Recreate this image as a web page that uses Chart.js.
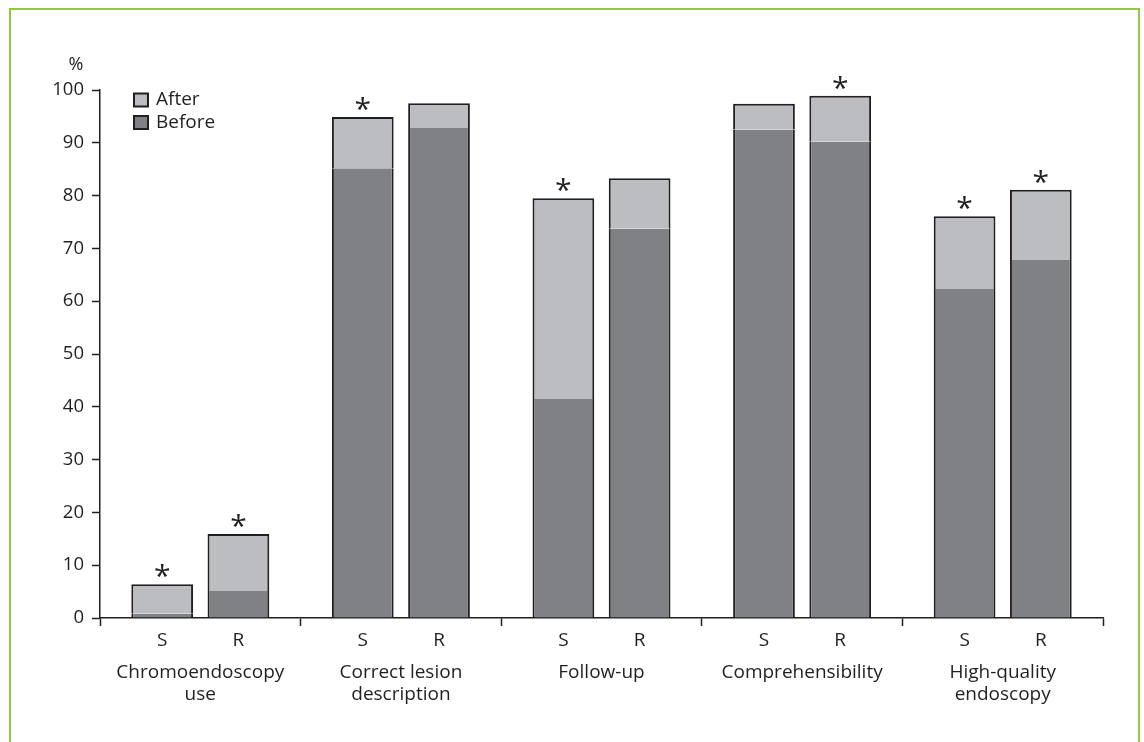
<!DOCTYPE html>
<html>
<head>
<meta charset="utf-8">
<script src="https://cdn.jsdelivr.net/npm/chart.js@4"></script>
<style>
  html, body { margin: 0; padding: 0; background: #fff; }
  .frame {
    position: absolute; left: 9px; top: 8px; width: 1131px; height: 760px;
    border: 2px solid #92c83e; box-sizing: border-box;
  }
  .wrap { position: absolute; left: 0; top: 0; width: 1144px; height: 742px; }
</style>
</head>
<body>
<div class="frame"></div>
<div class="wrap"><canvas id="myChart" width="1144" height="742"></canvas></div>
<script>
const categories = [
  ["Chromoendoscopy", "use"],
  ["Correct lesion", "description"],
  ["Follow-up"],
  ["Comprehensibility"],
  ["High-quality", "endoscopy"],
];
const groups = ["S", "R"];

// before / after (%), S and R per category
const beforeS = [0.8, 85.2, 41.5, 92.5, 62.3];
const afterS = [6.4, 94.9, 79.5, 97.4, 76.1];
const beforeR = [5.1, 92.8, 73.7, 90.2, 67.8];
const afterR = [15.9, 97.5, 83.3, 98.9, 81.1];

// significant change marks
const starS = [true, true, true, false, true];
const starR = [true, false, false, true, true];

const yTicks = [0, 10, 20, 30, 40, 50, 60, 70, 80, 90, 100];

const darkGray = "#808185";
const lightGray = "#bcbdc0";
const ink = "#231f20";
const font = "'Open Sans', 'DejaVu Sans', sans-serif";

const diff = (a, b) => a.map((v, i) => +(v - b[i]).toFixed(2));

const sideBorder = { top: 0, left: 2, right: 2, bottom: 0 };
const capBorder = { top: 2, left: 2, right: 2, bottom: 0 };

// draws S/R labels, asterisks, % sign and the legend
const extras = {
  id: "extras",
  afterDatasetsDraw(chart) {
    const { ctx, scales } = chart;
    const y = scales.y;
    ctx.save();
    ctx.fillStyle = ink;
    ctx.textAlign = "center";

    const topMeta = [chart.getDatasetMeta(1), chart.getDatasetMeta(3)];
    const stars = [starS, starR];
    const tops = [afterS, afterR];
    topMeta.forEach((meta, g) => {
      meta.data.forEach((bar, i) => {
        ctx.font = "19px " + font;
        ctx.textBaseline = "middle";
        ctx.fillText(groups[g], bar.x, 641);
        if (stars[g][i]) {
          ctx.font = "30px " + font;
          ctx.textBaseline = "alphabetic";
          ctx.fillText("*", bar.x, y.getPixelForValue(tops[g][i]) + 2);
        }
      });
    });

    ctx.font = "18px " + font;
    ctx.textBaseline = "middle";
    ctx.fillText("%", 76, 65);

    // legend
    const items = [
      { label: "After", color: lightGray },
      { label: "Before", color: darkGray },
    ];
    ctx.font = "19px " + font;
    items.forEach((it, k) => {
      const cy = 100 + k * 22.5;
      ctx.fillStyle = ink;
      ctx.fillRect(133, cy - 7.5, 16, 15);
      ctx.fillStyle = it.color;
      ctx.fillRect(135, cy - 5.5, 12, 11);
      ctx.fillStyle = ink;
      ctx.textAlign = "left";
      ctx.fillText(it.label, 156, cy);
    });
    ctx.restore();
  },
};

const ctx = document.getElementById("myChart");

const grafico = new Chart(ctx, {
  type: "bar",
  data: {
    labels: categories,
    datasets: [
      {
        label: "Before S",
        data: beforeS,
        stack: "S",
        backgroundColor: darkGray,
        borderColor: ink,
        borderWidth: sideBorder,
        borderSkipped: false,
      },
      {
        label: "After S",
        data: diff(afterS, beforeS),
        stack: "S",
        backgroundColor: lightGray,
        borderColor: ink,
        borderWidth: capBorder,
        borderSkipped: false,
      },
      {
        label: "Before R",
        data: beforeR,
        stack: "R",
        backgroundColor: darkGray,
        borderColor: ink,
        borderWidth: sideBorder,
        borderSkipped: false,
      },
      {
        label: "After R",
        data: diff(afterR, beforeR),
        stack: "R",
        backgroundColor: lightGray,
        borderColor: ink,
        borderWidth: capBorder,
        borderSkipped: false,
      },
    ],
  },
  options: {
    responsive: false,
    animation: false,
    categoryPercentage: 0.76,
    barPercentage: 0.81,
    layout: { padding: { left: 0, top: 90, right: 41, bottom: 0 } },
    scales: {
      x: {
        stacked: true,
        offset: true,
        grid: {
          offset: true,
          drawOnChartArea: false,
          tickLength: 8,
          tickColor: ink,
          tickWidth: 1.5,
        },
        border: { color: ink, width: 1.5 },
        ticks: {
          color: ink,
          padding: 35,
          maxRotation: 0,
          font: { family: font, size: 19, lineHeight: 1.17 },
        },
        afterFit: (scale) => {
          scale.height = 124;
        },
      },
      y: {
        stacked: true,
        min: 0,
        max: 100,
        afterBuildTicks: (scale) => {
          scale.ticks = yTicks.map((v) => ({ value: v }));
        },
        grid: {
          drawOnChartArea: false,
          tickLength: 8,
          tickColor: ink,
          tickWidth: 1.5,
        },
        border: { color: ink, width: 1.5 },
        ticks: {
          color: ink,
          padding: 8,
          font: { family: font, size: 18.5 },
        },
        afterFit: (scale) => {
          scale.width = 100;
        },
      },
    },
    plugins: {
      legend: { display: false },
      tooltip: { enabled: false },
    },
  },
  plugins: [extras],
});
</script>
</body>
</html>
